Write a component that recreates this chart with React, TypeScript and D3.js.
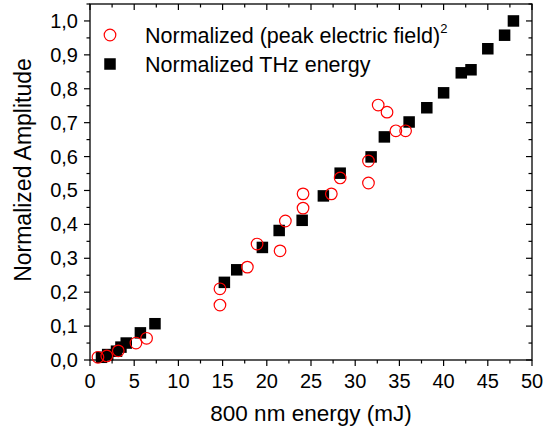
import React from "react";
import * as d3 from "d3";

const fieldX = [0.9, 1.9, 3.2, 5.2, 6.4, 14.7, 14.7, 17.8, 18.9, 21.5, 22.1, 24.1, 24.1, 27.3, 28.3, 31.5, 31.5, 32.6, 33.6, 34.6, 35.7];
const fieldY = [0.008, 0.012, 0.027, 0.05, 0.064, 0.162, 0.21, 0.274, 0.342, 0.322, 0.41, 0.448, 0.49, 0.49, 0.537, 0.522, 0.587, 0.752, 0.731, 0.676, 0.676];

const thzX = [1.3, 2.0, 3.0, 3.5, 4.1, 5.7, 7.35, 15.2, 16.6, 19.5, 21.4, 24.0, 26.4, 28.3, 31.8, 33.3, 36.1, 38.1, 40.0, 42.0, 43.1, 45.0, 46.9, 47.9];
const thzY = [0.008, 0.016, 0.026, 0.038, 0.05, 0.08, 0.107, 0.229, 0.266, 0.332, 0.382, 0.412, 0.484, 0.551, 0.599, 0.658, 0.702, 0.744, 0.788, 0.847, 0.856, 0.918, 0.958, 1.0];

const xTicks = [0, 5, 10, 15, 20, 25, 30, 35, 40, 45, 50];
const yTicks = [0, 0.1, 0.2, 0.3, 0.4, 0.5, 0.6, 0.7, 0.8, 0.9, 1.0];

const W = 543, H = 431;
const L = 90, R = 532, T = 4, B = 360;
const FONT = "'Liberation Sans', Arial, sans-serif";

export default function App() {
  const x = d3.scaleLinear().domain([0, 50]).range([L, R]);
  const y = d3.scaleLinear().domain([0, 1.05]).range([B, T]);
  const xMinor = d3.range(0, 50.01, 2.5);
  const yMinor = d3.range(0, 1.051, 0.05);
  const sq = 11.5;
  const cr = 5.8;
  return (
    <svg width={W} height={H} style={{ position: "absolute", left: 0, top: 0, background: "#fff" }} fontFamily={FONT}>
      <rect x={0} y={0} width={W} height={H} fill="#fff" />
      <rect x={L} y={T} width={R - L} height={B - T} fill="none" stroke="#000" strokeWidth={1.3} />
      {xMinor.map((v, i) => {
        const major = i % 2 === 0;
        const len = major ? 6 : 3.5;
        return (
          <g key={"xt" + i}>
            <line x1={x(v)} x2={x(v)} y1={B} y2={B + len} stroke="#000" strokeWidth={1.2} />
            <line x1={x(v)} x2={x(v)} y1={T} y2={T + len} stroke="#000" strokeWidth={1.2} />
          </g>
        );
      })}
      {yMinor.map((v, i) => {
        const major = i % 2 === 0;
        const len = major ? 6 : 3.5;
        return (
          <g key={"yt" + i}>
            <line x1={L - len} x2={L} y1={y(v)} y2={y(v)} stroke="#000" strokeWidth={1.2} />
            <line x1={R - len} x2={R} y1={y(v)} y2={y(v)} stroke="#000" strokeWidth={1.2} />
          </g>
        );
      })}
      {xTicks.map((v) => (
        <text key={"xl" + v} x={x(v)} y={388} textAnchor="middle" fontSize={20} fill="#000">{v}</text>
      ))}
      {yTicks.map((v) => (
        <text key={"yl" + v} x={78} y={y(v) + 7} textAnchor="end" fontSize={20} fill="#000">{d3.format(".1f")(v).replace(".", ",")}</text>
      ))}
      <text x={(L + R) / 2} y={421} textAnchor="middle" fontSize={22.5} fill="#000">800 nm energy (mJ)</text>
      <text transform={`translate(31,${170}) rotate(-90)`} textAnchor="middle" fontSize={23} fill="#000">Normalized Amplitude</text>
      {thzX.map((v, i) => (
        <rect key={"s" + i} x={x(v) - sq / 2} y={y(thzY[i]) - sq / 2} width={sq} height={sq} fill="#000" />
      ))}
      {fieldX.map((v, i) => (
        <circle key={"c" + i} cx={x(v)} cy={y(fieldY[i])} r={cr} fill="none" stroke="#ff0000" strokeWidth={1.2} />
      ))}
      <circle cx={110} cy={35} r={cr} fill="none" stroke="#ff0000" strokeWidth={1.2} />
      <text x={145} y={43} fontSize={21.5} fill="#000">
        Normalized (peak electric field)<tspan fontSize={13} dy={-10}>2</tspan>
      </text>
      <rect x={110 - sq / 2} y={64 - sq / 2} width={sq} height={sq} fill="#000" />
      <text x={145} y={72} fontSize={21.5} fill="#000">Normalized THz energy</text>
    </svg>
  );
}
